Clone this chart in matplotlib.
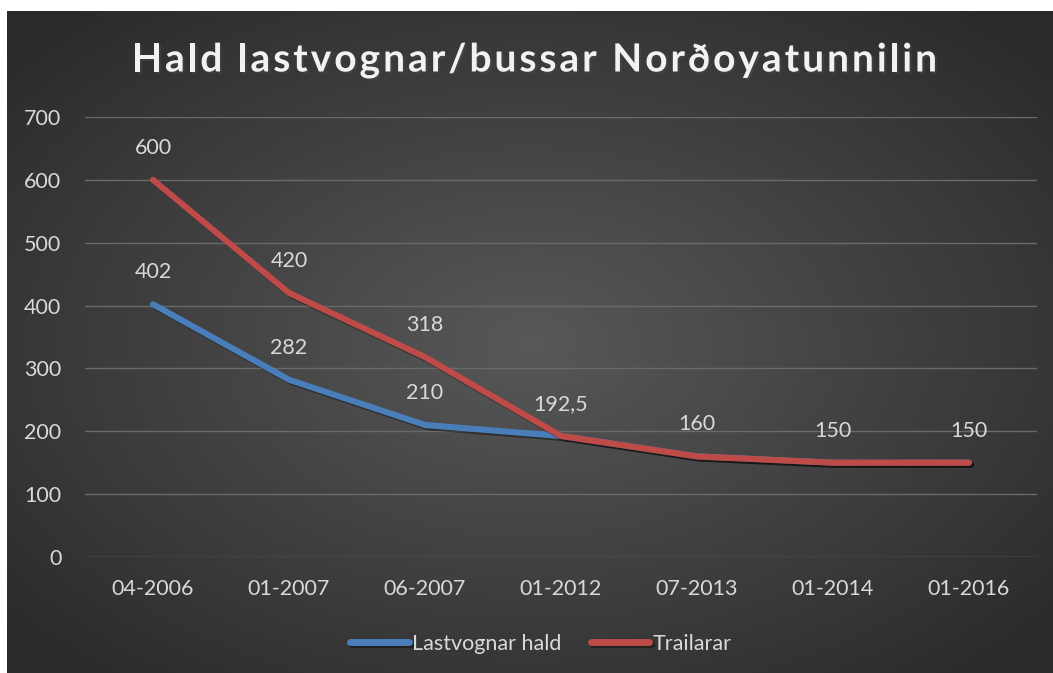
import numpy as np
import matplotlib.pyplot as plt
import matplotlib.patheffects as pe

# Data
dagfestingar = ["04-2006", "01-2007", "06-2007", "01-2012", "07-2013", "01-2014", "01-2016"]
lastvognar = [402, 282, 210, 192.5, 160, 150, 150]
trailarar = [600, 420, 318, 192.5, 160, 150, 150]
bla_merki = ["402", "282", "210", "", "", "", ""]
reyd_merki = ["600", "420", "318", "192,5", "160", "150", "150"]
heiti = "Hald lastvognar/bussar Norðoyatunnilin"

plt.rcParams['font.family'] = ['Lato', 'DejaVu Sans']
tekst_litur = '#d9d9d9'
W, H = 1053, 673

fig = plt.figure(figsize=(W/100, H/100), dpi=100)
fig.patch.set_facecolor('white')

# Bakgrund við radialum gradienti
bg = fig.add_axes([7/W, 0, 1 - 7/W, 1 - 11/H])
yy, xx = np.mgrid[-1:1:400j, -1:1:600j]
r = np.sqrt(xx**2 + yy**2)
r = np.clip(r / 1.35, 0, 1)
ljos = 0.345 - 0.18 * r
bg.imshow(np.dstack([ljos, ljos, ljos]), aspect='auto', extent=[0, 1, 0, 1])
bg.axis('off')

ax = fig.add_axes([85/W, 116/H, (1037-85)/W, (557-117)/H])
ax.patch.set_alpha(0)
x = np.arange(len(dagfestingar))

skuggi = [pe.SimpleLineShadow(offset=(1.5, -1.5), alpha=0.4), pe.Normal()]
ax.plot(x, lastvognar, color='#4a7ebb', lw=4.4, solid_capstyle='round',
        label='Lastvognar hald', path_effects=skuggi, zorder=3)
ax.plot(x, trailarar, color='#be4b48', lw=4.4, solid_capstyle='round',
        label='Trailarar', path_effects=skuggi, zorder=4)

for i in range(len(x)):
    if bla_merki[i]:
        ax.annotate(bla_merki[i], (x[i], lastvognar[i]), xytext=(0, 23),
                    textcoords='offset points', ha='center', va='center',
                    color=tekst_litur, fontsize=15.5)
    ax.annotate(reyd_merki[i], (x[i], trailarar[i]), xytext=(0, 23),
                textcoords='offset points', ha='center', va='center',
                color=tekst_litur, fontsize=15.5)

ax.set_xlim(-0.5, len(x) - 0.5)
ax.set_ylim(0, 700)
ax.set_yticks(range(0, 701, 100))
ax.set_xticks(x)
ax.set_xticklabels(dagfestingar)
ax.tick_params(axis='both', colors=tekst_litur, labelsize=15.5, length=0)
ax.tick_params(axis='x', pad=16)
ax.tick_params(axis='y', pad=17)
ax.grid(axis='y', color='#6a6a6a', lw=1)
ax.set_axisbelow(True)
for s in ax.spines.values():
    s.set_visible(False)

# Heiti við bókstavaspjaldi (tracking)
renderer = fig.canvas.get_renderer()
heiti_stil = dict(color='#f2f2f2', fontsize=28, fontweight='bold', va='center', ha='left')
def breidd(s):
    t = fig.text(0, 0, s, **heiti_stil)
    b = t.get_window_extent(renderer).width
    t.remove()
    return b
full = breidd(heiti)
ynskt = 805.0
spjald = (ynskt - full) / (len(heiti) - 1)
x0 = (W - ynskt) / 2 + 8
for i, c in enumerate(heiti):
    if c == ' ':
        continue
    xp = x0 + (breidd(heiti[:i] + 'x') - breidd('x') if i > 0 else 0) + i * spjald
    fig.text(xp / W, 1 - 60/H, c, path_effects=[pe.withSimplePatchShadow(offset=(1.5, -1.5), alpha=0.5)],
             **heiti_stil)

leg = ax.legend(loc='upper center', bbox_to_anchor=(0.479, -0.13), ncol=2, frameon=False,
                fontsize=15.5, handlelength=2.7, handletextpad=0.15, columnspacing=1.4)
for t in leg.get_texts():
    t.set_color(tekst_litur)
for h in leg.get_lines():
    h.set_solid_capstyle('round')
    h.set_linewidth(5)

fig.savefig('out.png', dpi=100)
